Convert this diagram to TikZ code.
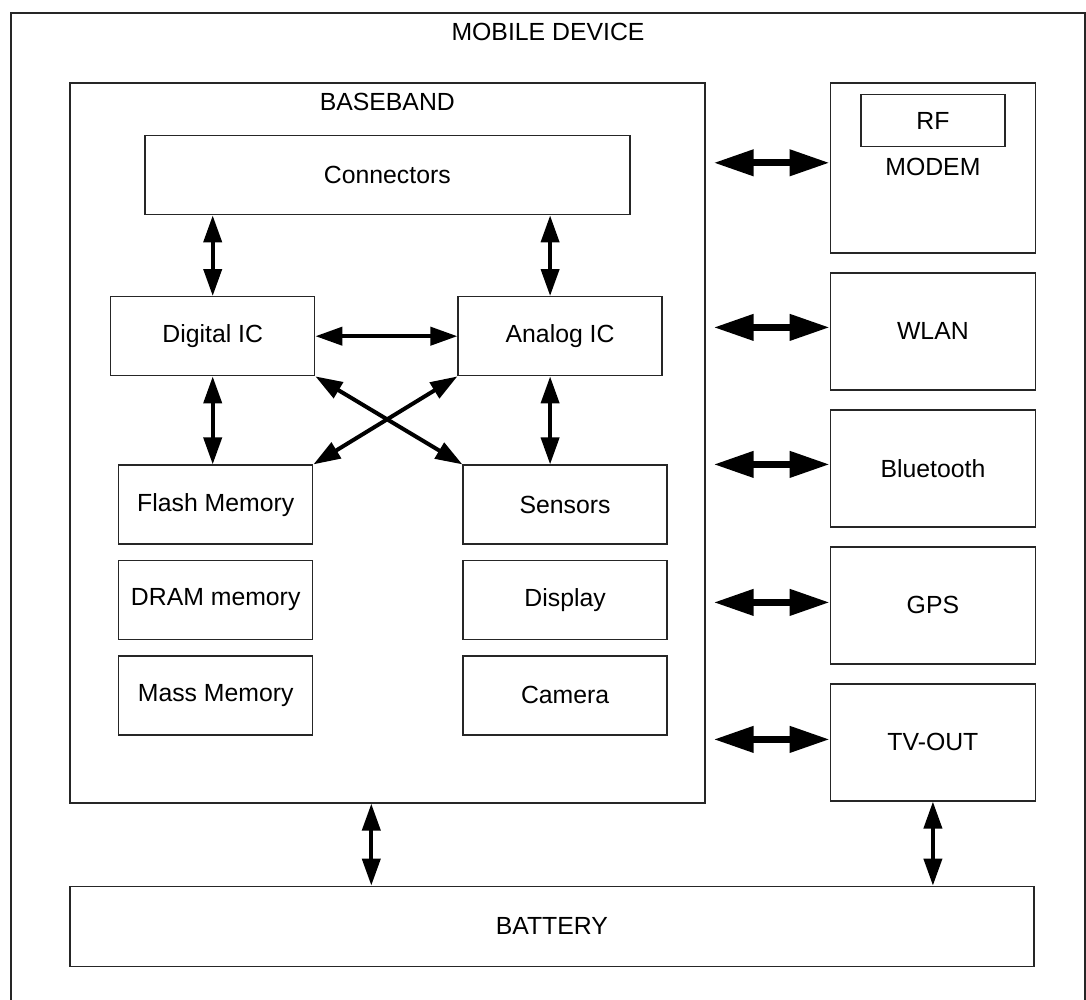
\documentclass[tikz,border=0pt]{standalone}
\usepackage{fontspec}
\setmainfont{Liberation Sans}
\usetikzlibrary{positioning, arrows.meta, calc}

\begin{document}
\begin{tikzpicture}[
    x=1pt, y=1pt,
    node distance=10pt,
    every node/.style={font=\fontsize{12.4}{14}\selectfont},
    frame/.style={rectangle, draw=black!85, line width=0.8pt, anchor=north west},
    box/.style={rectangle, draw=black!85, line width=0.7pt, minimum width=102pt, minimum height=39.5pt, text centered},
    membox/.style={box, minimum width=97pt},
    sidebox/.style={box, minimum width=102.5pt, minimum height=58.5pt},
    arrow/.style={line width=2pt, {Triangle[length=13.5pt,width=9pt]}-{Triangle[length=13.5pt,width=9pt]}},
    bigarrow/.style={line width=3.5pt, {Triangle[length=20pt,width=12.5pt]}-{Triangle[length=20pt,width=12.5pt]}}
]
\clip (0,0) rectangle (543,-500);

% Mobile device
\node[frame, line width=1pt, minimum width=537pt, minimum height=520pt] (device) at (5,-6) {};
\node[below=2pt of device.north] (devicetitle) {MOBILE DEVICE};

% Baseband
\node[frame, minimum width=317.5pt, minimum height=360pt] (baseband) at (34.5,-41) {};
\node[below=2pt of baseband.north] (basebandtitle) {BASEBAND};

\node[box, minimum width=242.5pt, below=26.5pt of baseband.north] (connectors) {Connectors};
\node[box, below right=107pt and 20.5pt of baseband.north west] (digital) {Digital IC};
\node[box, right=71pt of digital] (analog) {Analog IC};

\node[membox, below=44pt of digital, xshift=1.5pt] (flash) {Flash Memory};
\node[membox, below=7.5pt of flash] (dram) {DRAM memory};
\node[membox, below=7.5pt of dram] (mass) {Mass Memory};

\node[box, below=44pt of analog, xshift=2.5pt] (sensors) {Sensors};
\node[box, below=7.5pt of sensors] (display) {Display};
\node[box, below=7.5pt of display] (camera) {Camera};

% Peripherals
\node[frame, minimum width=102.5pt, minimum height=85pt, below right=0pt and 62pt of baseband.north east] (modem) {};
\node[box, minimum width=72pt, minimum height=26pt, below=6pt of modem.north] (rf) {RF};
\node[below=2pt of rf] (modemlabel) {MODEM};
\node[sidebox, below=9.3pt of modem] (wlan) {WLAN};
\node[sidebox, below=9.3pt of wlan] (bluetooth) {Bluetooth};
\node[sidebox, below=9.3pt of bluetooth] (gps) {GPS};
\node[sidebox, below=9.3pt of gps] (tvout) {TV-OUT};

% Battery
\node[frame, minimum width=482pt, minimum height=40pt, below right=41pt and 0pt of baseband.south west] (battery) {BATTERY};

% Arrows inside baseband
\draw[arrow] (digital.north) -- (digital.north |- connectors.south);
\draw[arrow] ($(analog.north)+(-5pt,0)$) -- ($(analog.north |- connectors.south)+(-5pt,0)$);
\draw[arrow] (digital) -- (analog);
\draw[arrow] (digital.south) -- (digital.south |- flash.north);
\draw[arrow] ($(analog.south)+(-5pt,0)$) -- ($(analog.south |- sensors.north)+(-5pt,0)$);
\draw[arrow] (digital.south east) -- (sensors.north west);
\draw[arrow] (analog.south west) -- (flash.north east);

% Arrows to peripherals
\coordinate (bbedge) at ($(baseband.east)+(4pt,0)$);
\draw[bigarrow] ($(bbedge |- modem.west)+(0,2.5pt)$) -- ($(modem.west)+(0,2.5pt)$);
\draw[bigarrow] ($(bbedge |- wlan.west)+(0,2pt)$) -- ($(wlan.west)+(0,2pt)$);
\draw[bigarrow] ($(bbedge |- bluetooth.west)+(0,2pt)$) -- ($(bluetooth.west)+(0,2pt)$);
\draw[bigarrow] ($(bbedge |- gps.west)+(0,1.5pt)$) -- ($(gps.west)+(0,1.5pt)$);
\draw[bigarrow] ($(bbedge |- tvout.west)+(0,1.5pt)$) -- ($(tvout.west)+(0,1.5pt)$);

% Arrows to battery
\draw[arrow] ($(baseband.south)+(-8pt,0)$) -- ($(baseband.south |- battery.north)+(-8pt,0)$);
\draw[arrow] (tvout.south) -- (tvout.south |- battery.north);

\end{tikzpicture}
\end{document}
